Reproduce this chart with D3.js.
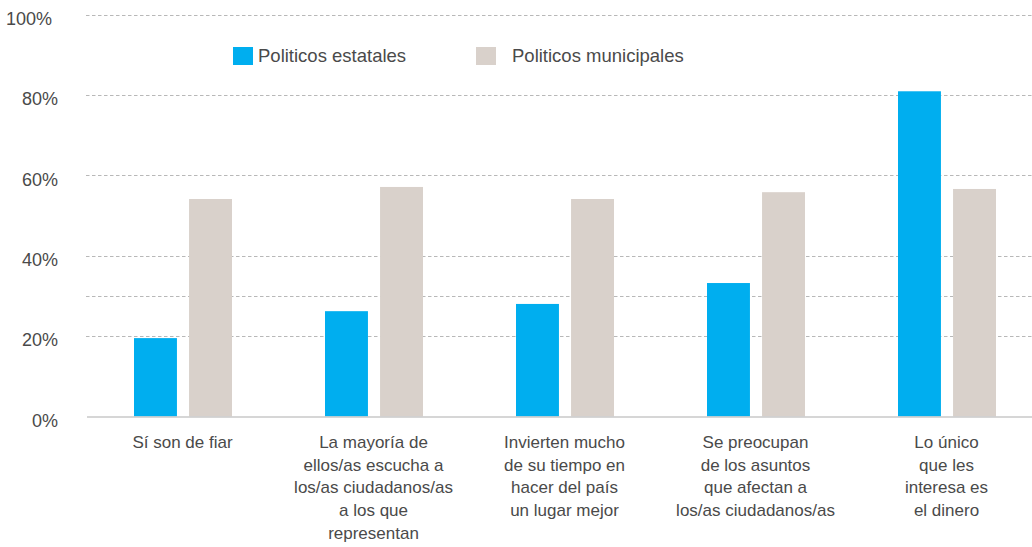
<!DOCTYPE html>
<html>
<head>
<meta charset="utf-8">
<script src="https://cdn.jsdelivr.net/npm/d3@7"></script>
<style>
  body { margin: 0; background: #fff; }
  text { font-family: "Liberation Sans", Arial, sans-serif; fill: #4a4a4a; }
</style>
</head>
<body>
<div id="chart"></div>
<script>
var categories = [
    ["Sí son de fiar"],
    ["La mayoría de", "ellos/as escucha a", "los/as ciudadanos/as", "a los que", "representan"],
    ["Invierten mucho", "de su tiempo en", "hacer del país", "un lugar mejor"],
    ["Se preocupan", "de los asuntos", "que afectan a", "los/as ciudadanos/as"],
    ["Lo único", "que les", "interesa es", "el dinero"]
];
var series = ["Politicos estatales", "Politicos municipales"];
var estatales = [19.5, 26.2, 28.0, 33.2, 80.9];
var municipales = [54.1, 57.1, 54.1, 55.8, 56.6];
var yTicks = [0, 20, 40, 60, 80, 100];
var gridValues = [20, 30, 40, 60, 80, 100];
var colors = ["#00aeef", "#d9d1cb"];

var width = 1032,
    height = 547;

var svg = d3.select("#chart")
    .append("svg")
    .attr("width", width)
    .attr("height", height);

var y = d3.scaleLinear()
    .domain([0, 100])
    .range([416.5, 14.5]);

var x0 = d3.scaleBand()
    .domain(d3.range(categories.length))
    .range([87, 1042])
    .padding(0);

var x1 = d3.scaleBand()
    .domain(series)
    .range([47, 145])
    .paddingInner(0.22);

// gridlines
svg.selectAll(".grid")
    .data(gridValues)
    .enter()
    .append("line")
    .attr("class", "grid")
    .attr("x1", 86)
    .attr("x2", 1032)
    .attr("y1", function(d) { return Math.round(y(d)) + 0.5; })
    .attr("y2", function(d) { return Math.round(y(d)) + 0.5; })
    .style("stroke", "#b8b8b8")
    .style("stroke-width", 1)
    .style("stroke-dasharray", "3.5,2.5");

// y labels
svg.selectAll(".ylabel")
    .data(yTicks)
    .enter()
    .append("text")
    .attr("class", "ylabel")
    .attr("x", function(d) { return d == 100 ? 52 : 58; })
    .attr("y", function(d) { return y(d) + 4; })
    .attr("dy", "0.35em")
    .style("text-anchor", "end")
    .style("font-size", "18px")
    .text(function(d) { return d + "%"; });

var rows = categories.map(function(c, i) {
    return { i: i, values: [estatales[i], municipales[i]] };
});

var groups = svg.selectAll(".group")
    .data(rows)
    .enter()
    .append("g")
    .attr("class", "group")
    .attr("transform", function(d) { return `translate(${x0(d.i)},0)`; });

groups.selectAll("rect")
    .data(function(d) { return d.values.map(function(v, k) { return { s: series[k], v: v, k: k }; }); })
    .enter()
    .append("rect")
    .attr("x", function(d) { return x1(d.s); })
    .attr("width", x1.bandwidth())
    .attr("y", function(d) { return y(d.v); })
    .attr("height", function(d) { return y(0) - y(d.v); })
    .style("fill", function(d) { return colors[d.k]; });

// baseline
svg.append("line")
    .attr("x1", 87)
    .attr("x2", 1032)
    .attr("y1", y(0) + 0.5)
    .attr("y2", y(0) + 0.5)
    .style("stroke", "#c8c8c8")
    .style("stroke-width", 1.5);

// category labels
groups.append("text")
    .attr("x", x0.bandwidth() / 2)
    .attr("y", 442)
    .style("text-anchor", "middle")
    .style("font-size", "17px")
    .selectAll("tspan")
    .data(function(d) { return categories[d.i]; })
    .enter()
    .append("tspan")
    .attr("x", x0.bandwidth() / 2)
    .attr("dy", function(d, j) { return j == 0 ? "0.35em" : "22.7px"; })
    .text(function(d) { return d; });

// legend
var legendX = [233, 476],
    legendTextX = [258, 512];

var legend = svg.selectAll(".legend")
    .data(series)
    .enter()
    .append("g")
    .attr("class", "legend");

legend.append("rect")
    .attr("x", function(d, i) { return legendX[i]; })
    .attr("y", 47)
    .attr("width", 20)
    .attr("height", 18)
    .style("fill", function(d, i) { return colors[i]; });

legend.append("text")
    .attr("x", function(d, i) { return legendTextX[i]; })
    .attr("y", 56)
    .attr("dy", "0.35em")
    .style("font-size", "18.5px")
    .text(function(d) { return d; });
</script>
</body>
</html>
